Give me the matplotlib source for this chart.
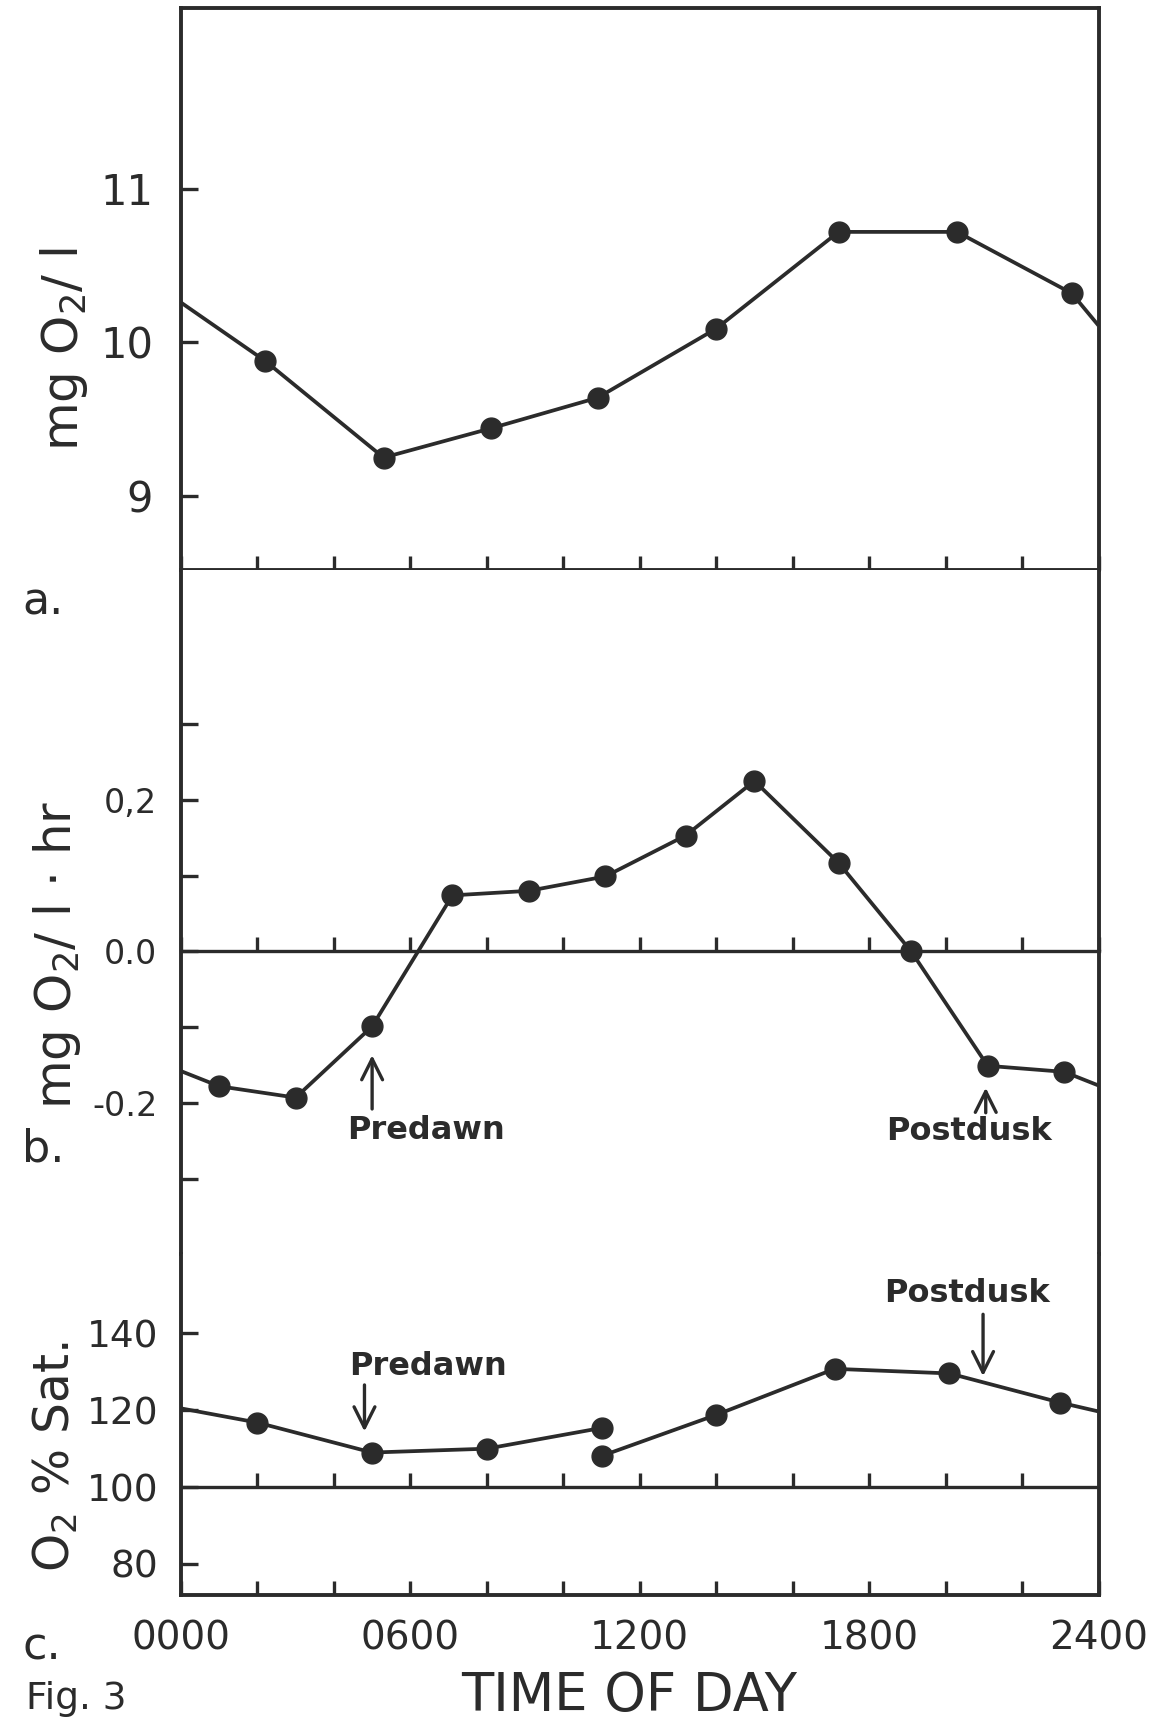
import numpy as np
import matplotlib.pyplot as plt

ink = "#2b2b2b"
plt.rcParams['font.family'] = ['DejaVu Sans']

# a. dissolved oxygen, mg O2 per litre
a_hour = [2.2, 5.3, 8.1, 10.9, 14.0, 17.2, 20.3, 23.3]
a_mg = [9.88, 9.25, 9.44, 9.64, 10.09, 10.72, 10.72, 10.32]
a_ends = [10.26, 10.11]          # value where the line meets 0000 and 2400

# b. rate of change, mg O2 per litre per hour
b_hour = [1.0, 3.0, 5.0, 7.1, 9.1, 11.1, 13.2, 15.0, 17.2, 19.1, 21.1, 23.1]
b_rate = [-0.178, -0.193, -0.099, 0.074, 0.080, 0.099, 0.153, 0.225, 0.117, 0.0, -0.151, -0.159]
b_ends = [-0.158, -0.177]

# c. percent saturation, two runs meeting at 1100
c_hour_1 = [2.0, 5.0, 8.0, 11.0]
c_sat_1 = [116.8, 109.0, 110.0, 115.4]
c_hour_2 = [11.0, 14.0, 17.1, 20.1, 23.0]
c_sat_2 = [108.1, 118.8, 130.8, 129.6, 122.0]
c_ends = [120.5, 119.7]

hour_ticks = list(range(0, 25, 2))
hour_labels = ["%02d00" % h if h % 6 == 0 else "" for h in hour_ticks]

fig = plt.figure(figsize=(11.6, 17.2), dpi=100)
L, W = 0.156, 0.791
ax_a = fig.add_axes([L, 0.6688, W, 0.3267])
ax_b = fig.add_axes([L, 0.2707, W, 0.3981])
ax_c = fig.add_axes([L, 0.0729, W, 0.1978])

for ax in (ax_a, ax_b, ax_c):
    ax.set_xlim(0, 24)
    ax.set_xticks(hour_ticks)
    ax.tick_params(axis='x', direction='in', length=10, width=2.4, color=ink)
    ax.tick_params(axis='y', direction='in', length=12, width=2.4, color=ink,
                   labelcolor=ink)
    for s in ax.spines.values():
        s.set_linewidth(2.8)
        s.set_color(ink)

line_kw = dict(color=ink, lw=2.7, solid_capstyle='butt')
dot_kw = dict(ls='none', marker='o', ms=15, color=ink)
arrow_kw = dict(arrowstyle='->, head_length=0.5, head_width=0.25', lw=2.4,
                color=ink, shrinkA=0, shrinkB=0, mutation_scale=30)
note_kw = dict(ha='center', va='center', fontsize=23, fontweight='bold', color=ink)

# --- a ---
ax_a.plot([0] + a_hour + [24], [a_ends[0]] + a_mg + [a_ends[1]], **line_kw)
ax_a.plot(a_hour, a_mg, **dot_kw)
ax_a.set_ylim(8.52, 12.18)
ax_a.set_yticks([9, 10, 11])
ax_a.set_yticklabels(['9', '10', '11'])
ax_a.tick_params(axis='y', labelsize=30, pad=20)
ax_a.tick_params(axis='x', labelbottom=False)

# --- b ---
ax_b.plot([0] + b_hour + [24], [b_ends[0]] + b_rate + [b_ends[1]], **line_kw)
ax_b.plot(b_hour, b_rate, **dot_kw)
ax_b.set_ylim(-0.4, 0.504)
ax_b.spines['top'].set_visible(False)
ax_b.spines['bottom'].set_position(('data', 0))
ax_b.spines['bottom'].set_linewidth(2.4)
ax_b.set_yticks([-0.3, -0.2, -0.1, 0.0, 0.1, 0.2, 0.3])
ax_b.set_yticklabels(['', '-0.2', '', '0.0', '', '0,2', ''])
ax_b.tick_params(axis='y', labelsize=24, pad=17)
ax_b.tick_params(axis='x', labelbottom=False)

ax_b.annotate('', xy=(5.0, -0.137), xytext=(5.0, -0.208), arrowprops=arrow_kw)
ax_b.text(6.4, -0.237, 'Predawn', **note_kw)
ax_b.annotate('', xy=(21.05, -0.18), xytext=(21.05, -0.213), arrowprops=arrow_kw)
ax_b.text(20.6, -0.238, 'Postdusk', **note_kw)

# --- c ---
ax_c.plot([0] + c_hour_1, [c_ends[0]] + c_sat_1, **line_kw)
ax_c.plot(c_hour_2 + [24], c_sat_2 + [c_ends[1]], **line_kw)
ax_c.plot(c_hour_1 + c_hour_2, c_sat_1 + c_sat_2, **dot_kw)
ax_c.axhline(100, color=ink, lw=2.4)
ax_c.plot(hour_ticks[1:-1], [100] * (len(hour_ticks) - 2), ls='none',
          marker=2, ms=10, mew=2.4, color=ink)
ax_c.set_ylim(72, 160.6)
ax_c.spines['top'].set_visible(False)
ax_c.set_yticks([80, 100, 120, 140])
ax_c.set_yticklabels(['80', '100', '120', '140'])
ax_c.tick_params(axis='y', labelsize=27, pad=16)
ax_c.set_xticklabels(hour_labels)
ax_c.tick_params(axis='x', labelsize=28, pad=18, labelcolor=ink)

ax_c.annotate('', xy=(4.8, 114.5), xytext=(4.8, 126.6), arrowprops=arrow_kw)
ax_c.text(6.45, 131.5, 'Predawn', **note_kw)
ax_c.annotate('', xy=(20.98, 128.9), xytext=(20.98, 145.0), arrowprops=arrow_kw)
ax_c.text(20.55, 150.3, 'Postdusk', **note_kw)

# axis titles and panel letters
fig.text(0.055, 0.797, 'mg O$_2$/ l', rotation=90, fontsize=36,
         ha='center', va='center', color=ink)
fig.text(0.049, 0.445, 'mg O$_2$/ l $\\cdot$ hr', rotation=90, fontsize=36,
         ha='center', va='center', color=ink)
fig.text(0.048, 0.153, 'O$_2$ % Sat.', rotation=90, fontsize=35,
         ha='center', va='center', color=ink)
fig.text(0.542, 0.005, 'TIME OF DAY', fontsize=38, ha='center', va='baseline', color=ink)

fig.text(0.019, 0.6427, 'a.', fontsize=32, va='baseline', color=ink)
fig.text(0.019, 0.325, 'b.', fontsize=32, va='baseline', color=ink)
fig.text(0.019, 0.0353, 'c.', fontsize=32, va='baseline', color=ink)
fig.text(0.022, 0.0066, 'Fig. 3', fontsize=27, va='baseline', color=ink)

fig.savefig('out.png', dpi=100, facecolor='white')
